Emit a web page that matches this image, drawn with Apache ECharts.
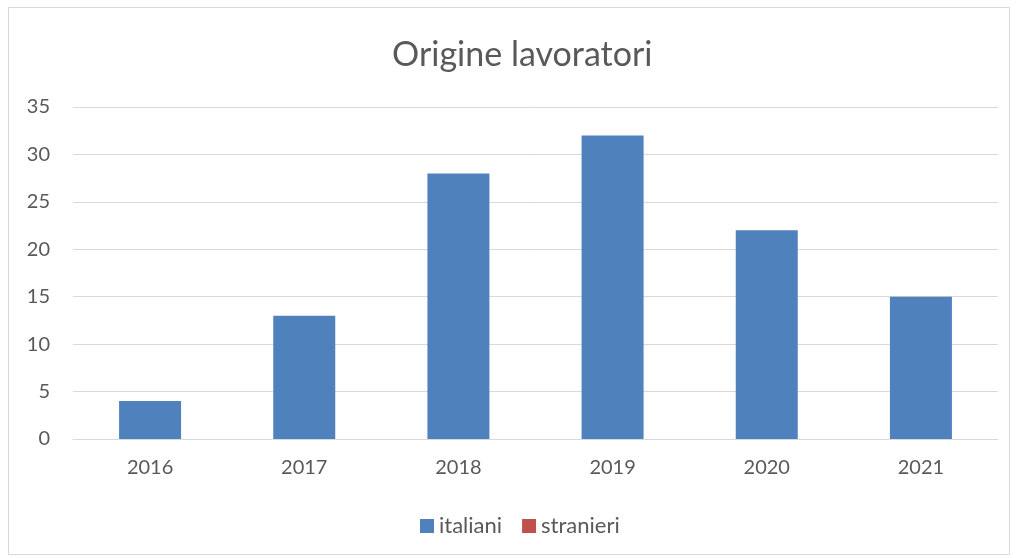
<!DOCTYPE html>
<html>
<head>
<meta charset="utf-8">
<script src="https://cdn.jsdelivr.net/npm/echarts@6/dist/echarts.min.js"></script>
<style>
  html, body { margin: 0; padding: 0; background: #fff; }
  #chart { width: 1016px; height: 558px; }
</style>
</head>
<body>
<div id="chart"></div>
<script>
// dati
let anni = ['2016', '2017', '2018', '2019', '2020', '2021']
let italiani = [4, 13, 28, 32, 22, 15]
let stranieri = [null, null, null, null, null, null]

let font = 'Lato, "Open Sans", sans-serif'

let option = {
    animation: false,
    textStyle: { fontFamily: font },
    title: {
        text: 'Origine lavoratori',
        left: 387,
        top: 33,
        textStyle: { fontFamily: font, fontSize: 34, fontWeight: 'normal', color: '#595959' }
    },
    graphic: [{
        type: 'rect',
        shape: { x: 8.5, y: 7.5, width: 1001, height: 547 },
        style: { fill: 'none', stroke: '#d9d9d9', lineWidth: 1 },
        silent: true
    }],
    legend: {
        top: 510,
        left: 415,
        itemWidth: 14,
        itemHeight: 14,
        itemGap: 20,
        icon: 'rect',
        textStyle: { fontFamily: font, fontSize: 22, color: '#595959', padding: [0, 0, 0, 0] },
        data: ['italiani', 'stranieri']
    },
    grid: { left: 73, right: 18, top: 107, bottom: 119, containLabel: false },
    xAxis: {
        type: 'category',
        data: anni,
        axisTick: { show: false },
        axisLine: { lineStyle: { color: '#d9d9d9', width: 1 } },
        axisLabel: { color: '#595959', fontSize: 20, margin: 19, fontFamily: font }
    },
    yAxis: {
        type: 'value',
        min: 0,
        max: 35,
        interval: 5,
        axisLine: { show: false },
        axisTick: { show: false },
        axisLabel: { color: '#595959', fontSize: 20, margin: 23, fontFamily: font },
        splitLine: { lineStyle: { color: '#d9d9d9', width: 1 } }
    },
    series: [{
        name: 'italiani',
        type: 'bar',
        data: italiani,
        barWidth: 62,
        barGap: '-100%',
        itemStyle: { color: '#4f81bd' }
    }, {
        name: 'stranieri',
        type: 'bar',
        data: stranieri,
        barWidth: 62,
        itemStyle: { color: '#c0504d' }
    }]
}

let myChart = echarts.init(document.querySelector('#chart'))
myChart.setOption(option)
</script>
</body>
</html>
